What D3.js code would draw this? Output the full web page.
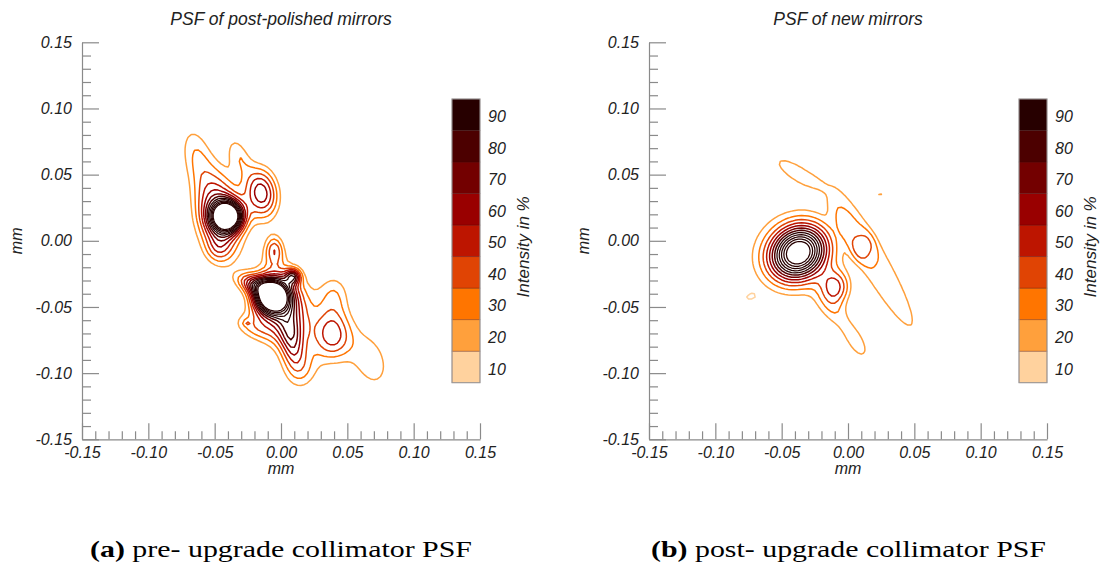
<!DOCTYPE html>
<html>
<head>
<meta charset="utf-8">
<script src="https://cdn.jsdelivr.net/npm/d3@7"></script>
<style>
  body { margin: 0; background: #fff; }
  svg { display: block; }
</style>
</head>
<body>
<svg id="fig" width="1100" height="567"></svg>
<script>
// Axis ticks (mm) and their printed labels
const majorTicks = [-0.15, -0.10, -0.05, 0.00, 0.05, 0.10, 0.15];
const majorLabels = ["-0.15", "-0.10", "-0.05", "0.00", "0.05", "0.10", "0.15"];
const minorTicks = [-0.14, -0.13, -0.12, -0.11, -0.09, -0.08, -0.07, -0.06, -0.04, -0.03, -0.02, -0.01,
                    0.01, 0.02, 0.03, 0.04, 0.06, 0.07, 0.08, 0.09, 0.11, 0.12, 0.13, 0.14];

// Colour bar bins (intensity in %)
const barLevels = [10, 20, 30, 40, 50, 60, 70, 80, 90];
const barColors = ["#ffd29e", "#ffa03c", "#ff7500", "#e04404", "#bd1500", "#990000", "#730000", "#4c0000", "#270000"];

// Contour levels drawn in both panels (%)
const contourLevels = [20, 30, 40, 50, 60, 70, 80, 90, 100, 110, 120, 130];
const faintLevels = [10];

const panelTitles = ["PSF of post-polished mirrors", "PSF of new mirrors"];
const captionTags = ["(a)", "(b)"];
const captionTexts = [" pre- upgrade collimator PSF", " post- upgrade collimator PSF"];

// Spot components of the measured PSFs:
// x, y (mm), sx, sy (mm), tilt (deg), intensity (%), profile (1 = gaussian, 2 = flat-topped)
const prePeaks = [
  [-0.0405,  0.0185, 0.0075, 0.0075,   0, 160, 1],
  [-0.0470,  0.0200, 0.0120, 0.0220,   8,  75, 1],
  [-0.0470, -0.0060, 0.0070, 0.0080,   0,  20, 1],
  [-0.0640,  0.0650, 0.0090, 0.0190,  12,  27, 1],
  [-0.0146,  0.0360, 0.0090, 0.0140,   8,  66, 1],
  [-0.0320,  0.0650, 0.0060, 0.0120,  20,  25, 1],
  [-0.0050, -0.0070, 0.0050, 0.0080,   0,  40, 1],
  [-0.0070, -0.0420, 0.0085, 0.0085,   0, 160, 1],
  [-0.0200, -0.0330, 0.0100, 0.0050, -20,  50, 1],
  [ 0.0020, -0.0500, 0.0140, 0.0220,  15,  70, 1],
  [ 0.0080, -0.0750, 0.0060, 0.0140,   8,  40, 1],
  [ 0.0090, -0.0270, 0.0040, 0.0040,   0,  60, 1],
  [ 0.0387, -0.0710, 0.0100, 0.0140,   0,  52, 1],
  [ 0.0670, -0.0900, 0.0120, 0.0200,  20,  27, 1],
  [ 0.0400, -0.0400, 0.0090, 0.0120,   0,  26, 1],
  [-0.0220, -0.0650, 0.0120, 0.0070, -20,  26, 1],
  [-0.0890,  0.0360, 0.0022, 0.0022,   0,  24, 1],
  [-0.0260, -0.0620, 0.0015, 0.0015,   0,  14, 1],
  [ 0.0150, -0.0980, 0.0100, 0.0120,   0,  26, 1]
];
const preFaint = [];

const postPeaks = [
  [-0.0375, -0.0090, 0.0150, 0.0130,  35, 140, 1],
  [-0.0420, -0.0080, 0.0320, 0.0310,   0,  15, 2],
  [ 0.0176, -0.0122, 0.0540, 0.0090, -60,  29, 2],
  [-0.0380,  0.0510, 0.0150, 0.0048, -32,  28, 2],
  [ 0.0110, -0.0050, 0.0060, 0.0080, -20,  18, 1],
  [-0.0090, -0.0347, 0.0080, 0.0090,   0,  44, 1],
  [-0.0120, -0.0520, 0.0120, 0.0080, -58,  22, 1],
  [ 0.0060, -0.0760, 0.0140, 0.0060, -60,  27, 1],
  [ 0.0240,  0.0360, 0.0040, 0.0020,   0,  24, 1]
];
const postFaint = [
  [-0.0730, -0.0420, 0.0050, 0.0030,  20,  13, 1]
];

// Layout
const W = 1100, H = 567;
const panelLeft = [82, 649];
const plotW = 398;
const yTop = 42.3, yBottom = 439.3;
const barTop = 99, barBottom = 382.7;

const N = 121;               // grid samples per side
const gridStep = 0.30 / (N - 1);

const svg = d3.select("#fig");
svg.append("rect").attr("width", W).attr("height", H).attr("fill", "#fff");

const labelFont = "'Liberation Sans', Arimo, Helvetica, Arial, sans-serif";

function fieldGrid(spots) {
  const values = new Float64Array(N * N);
  const comps = spots.map(([cx, cy, sx, sy, deg, amp, shape]) => {
    const t = deg * Math.PI / 180;
    return {cx, cy, c: Math.cos(t), s: Math.sin(t), ax: 1 / (2 * sx * sx), ay: 1 / (2 * sy * sy), amp, shape};
  });
  for (let j = 0; j < N; j++) {
    const yv = 0.15 - j * gridStep;
    for (let i = 0; i < N; i++) {
      const xv = -0.15 + i * gridStep;
      let v = 0;
      for (const k of comps) {
        const dx = xv - k.cx, dy = yv - k.cy;
        const u = dx * k.c + dy * k.s;
        const w = -dx * k.s + dy * k.c;
        const q = u * u * k.ax + w * w * k.ay;
        v += k.amp * Math.exp(-(k.shape === 2 ? q * q : q));
      }
      values[j * N + i] = v;
    }
  }
  return values;
}

function levelColor(v) {
  const idx = Math.min(Math.round(Math.min(v, 90) / 10) - 1, barColors.length - 1);
  return barColors[Math.max(idx, 0)];
}

function drawPanel(p) {
  const x0 = panelLeft[p];
  const x = d3.scaleLinear([-0.15, 0.15], [x0, x0 + plotW]);
  const y = d3.scaleLinear([-0.15, 0.15], [yBottom, yTop]);
  const g = svg.append("g");

  // grid index -> data coordinate (value i sits at i + 0.5)
  const gx = d3.scaleLinear([0.5, N - 0.5], [-0.15, 0.15]);
  const gy = d3.scaleLinear([0.5, N - 0.5], [0.15, -0.15]);
  const path = d3.geoPath(d3.geoTransform({
    point(px, py) { this.stream.point(x(gx(px)), y(gy(py))); }
  }));

  const spots = p === 0 ? prePeaks : postPeaks;
  const faint = p === 0 ? preFaint : postFaint;

  const layers = g.append("g").attr("fill", "none").attr("stroke-width", 1.5)
    .attr("stroke-linejoin", "round");

  if (faint.length) {
    const fc = d3.contours().size([N, N]).thresholds(faintLevels)(fieldGrid(faint));
    layers.selectAll("path.faint").data(fc).join("path")
      .attr("class", "faint").attr("d", path).attr("stroke", d => levelColor(d.value));
  }
  const cs = d3.contours().size([N, N]).thresholds(contourLevels)(fieldGrid(spots));
  layers.selectAll("path.iso").data(cs).join("path")
    .attr("class", "iso").attr("d", path).attr("stroke", d => levelColor(d.value))
    .attr("stroke-width", d => d.value >= 90 ? 1.25 : 1.5);

  // Axes: left and bottom only, ticks pointing inward
  const axisColor = "#8a8a8a";
  g.append("g").attr("transform", `translate(${x0},0)`)
    .call(d3.axisLeft(y).tickValues(majorTicks).tickSize(-17).tickSizeOuter(0).tickPadding(10)
      .tickFormat((d, i) => majorLabels[i]));
  g.append("g").attr("transform", `translate(${x0},0)`)
    .call(d3.axisLeft(y).tickValues(minorTicks).tickSize(-9).tickFormat(""))
    .select(".domain").remove();
  g.append("g").attr("transform", `translate(0,${yBottom})`)
    .call(d3.axisBottom(x).tickValues(majorTicks).tickSize(-16).tickSizeOuter(0).tickPadding(7)
      .tickFormat((d, i) => majorLabels[i]));
  g.append("g").attr("transform", `translate(0,${yBottom})`)
    .call(d3.axisBottom(x).tickValues(minorTicks).tickSize(-8).tickFormat(""))
    .select(".domain").remove();
  g.selectAll(".domain, .tick line").attr("stroke", axisColor).attr("stroke-width", 1.2);
  g.selectAll(".tick text").attr("font-family", labelFont).attr("font-style", "italic")
    .attr("font-size", 16).attr("fill", "#222");

  // Axis titles
  g.append("text").attr("x", x(0)).attr("y", 474).attr("text-anchor", "middle")
    .attr("font-family", labelFont).attr("font-style", "italic").attr("font-size", 16)
    .attr("fill", "#222").text("mm");
  g.append("text").attr("transform", `translate(${x0 - 66},${y(0)}) rotate(-90)`)
    .attr("text-anchor", "middle").attr("dy", "0.35em")
    .attr("font-family", labelFont).attr("font-style", "italic").attr("font-size", 16)
    .attr("fill", "#222").text("mm");

  // Title
  g.append("text").attr("x", x(0)).attr("y", 25).attr("text-anchor", "middle")
    .attr("font-family", labelFont).attr("font-style", "italic").attr("font-size", 17.5)
    .attr("fill", "#222").text(panelTitles[p]);

  // Colour bar
  const bx = x0 + 370, bw = 28;
  const band = d3.scaleBand(barLevels.slice().reverse(), [barTop, barBottom]);
  const bar = g.append("g");
  bar.selectAll("rect").data(barLevels).join("rect")
    .attr("x", bx).attr("y", d => band(d)).attr("width", bw).attr("height", band.bandwidth())
    .attr("fill", (d, i) => barColors[i])
    .attr("stroke", "rgba(60,0,0,0.35)").attr("stroke-width", 0.8);
  bar.append("rect").attr("x", bx).attr("y", barTop).attr("width", bw).attr("height", barBottom - barTop)
    .attr("fill", "none").attr("stroke", "#9a9a9a").attr("stroke-width", 1);
  bar.selectAll("text").data(barLevels).join("text")
    .attr("x", bx + 36).attr("y", d => band(d) + band.bandwidth() / 2 + 2)
    .attr("dy", "0.35em")
    .attr("font-family", labelFont).attr("font-style", "italic").attr("font-size", 16)
    .attr("fill", "#222").text(d => d);
  g.append("text").attr("transform", `translate(${bx + 71},${(barTop + barBottom) / 2 + 6}) rotate(-90)`)
    .attr("text-anchor", "middle").attr("dy", "0.35em")
    .attr("font-family", labelFont).attr("font-style", "italic").attr("font-size", 17)
    .attr("fill", "#222").text("Intensity in %");
}

drawPanel(0);
drawPanel(1);

// Sub-figure captions
const captionX = [90, 651];
const captionW = [382, 395];
captionTags.forEach((tag, i) => {
  const t = svg.append("text").attr("x", captionX[i]).attr("y", 557)
    .attr("font-family", "'Liberation Serif', 'Times New Roman', serif").attr("font-size", 23.5)
    .attr("fill", "#000")
    .attr("textLength", captionW[i]).attr("lengthAdjust", "spacingAndGlyphs");
  t.append("tspan").attr("font-weight", "bold").text(tag);
  t.append("tspan").text(captionTexts[i]);
});
</script>
</body>
</html>
